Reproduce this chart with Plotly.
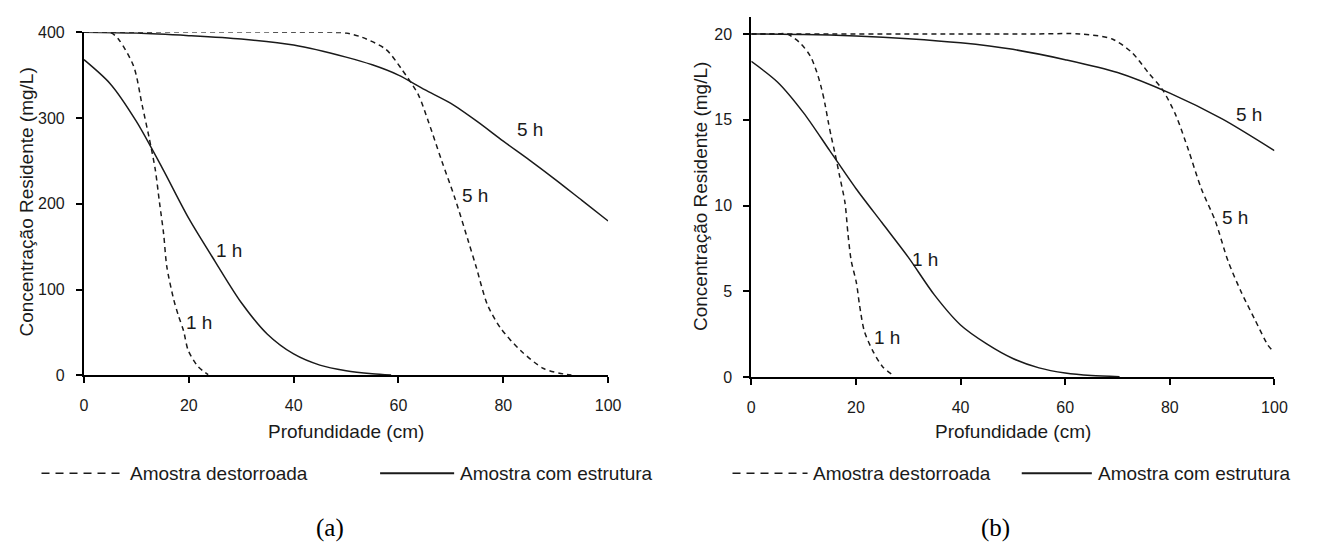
import plotly.graph_objects as go

# ---------------- data: panel (a) ----------------
a_dest_1h_x = [0, 5, 6.7, 9.5, 11.1, 12.4, 13.6, 14.4, 15.2, 15.8, 17.1, 18.0, 19.0, 19.9, 21.8, 23.7]
a_dest_1h_y = [400, 400, 391, 360, 315, 278, 240, 202, 165, 127, 89, 70, 52, 29, 10, 1]

a_struct_1h_x = [0, 5, 10, 15, 20, 25, 30, 35, 40, 45, 50, 55, 58.6]
a_struct_1h_y = [368, 340, 296, 241, 183, 133, 85, 48, 25, 12, 5.5, 2, 0.5]

a_struct_5h_x = [0, 10, 20, 30, 40, 50, 55, 60, 65, 70, 75, 80, 85, 90, 95, 100]
a_struct_5h_y = [400, 399, 396, 392, 385, 371, 362, 350, 333, 317, 296, 273, 251, 228, 204, 180]

a_dest_5h_x = [0, 40, 50, 53.1, 57.6, 60.6, 63.8, 65.7, 68.2, 70.8, 73.3, 74.8, 77, 79.5, 83.3, 87.7, 92.1, 93]
a_dest_5h_y = [400, 400, 399, 394, 380, 357, 327, 296, 251, 206, 157, 127, 82, 55, 29, 8, 1, 0.5]

# ---------------- data: panel (b) ----------------
b_dest_1h_x = [0, 5, 6.85, 9.4, 11.3, 12.5, 13.45, 14.1, 14.7, 15.3, 16.0, 16.9, 17.9, 18.5, 19.1, 20.1, 20.7, 21.6, 23.2, 25.1, 27.0]
b_dest_1h_y = [20, 20, 20, 19.45, 18.7, 17.8, 16.8, 15.9, 14.9, 14.0, 13.05, 11.7, 10.2, 8.3, 6.8, 5.5, 4.2, 2.7, 1.56, 0.62, 0.15]

b_struct_1h_x = [0, 5, 10, 15, 20, 25, 30, 35, 40, 45, 50, 55, 60, 65, 70.4]
b_struct_1h_y = [18.4, 17.2, 15.4, 13.2, 11.0, 9.0, 7.0, 4.8, 3.05, 1.95, 1.1, 0.55, 0.25, 0.1, 0.03]

b_struct_5h_x = [0, 10, 20, 30, 40, 50, 60, 70, 80, 90, 100]
b_struct_5h_y = [20, 19.97, 19.88, 19.72, 19.48, 19.1, 18.5, 17.75, 16.55, 15.05, 13.2]

b_dest_5h_x = [0, 55, 62.8, 69, 72.8, 76, 78.5, 81.1, 83.6, 86, 88.7, 91.1, 93.6, 96.2, 98.7, 99.5]
b_dest_5h_y = [20, 20, 20, 19.7, 18.9, 17.7, 16.8, 15.3, 13.2, 11, 9.1, 6.8, 5, 3.4, 1.9, 1.6]

# curve labels (text, x, y)
a_labels = [("1 h", 27.7, 145), ("1 h", 22.0, 62), ("5 h", 85.1, 287), ("5 h", 74.6, 210)]
b_labels = [("1 h", 33.2, 6.85), ("1 h", 26.0, 2.3), ("5 h", 95.1, 15.3), ("5 h", 92.5, 9.3)]

x_ticks = [0, 20, 40, 60, 80, 100]
a_y_ticks = [0, 100, 200, 300, 400]
b_y_ticks = [0, 5, 10, 15, 20]

x_title = "Profundidade (cm)"
y_title = "Concentração Residente (mg/L)"
legend_dest = "Amostra destorroada"
legend_struct = "Amostra com estrutura"

W, H = 1322, 555
FONT = "Liberation Sans, Arial, sans-serif"
INK = "#1a1a1a"
DASH = "5px,4px"

fig = go.Figure()

def add_line(x, y, xa, ya, dashed):
    fig.add_trace(go.Scatter(
        x=x, y=y, xaxis=xa, yaxis=ya, mode="lines",
        line=dict(color=INK, width=1.5, dash=DASH if dashed else "solid",
                  shape="spline", smoothing=0.8),
        showlegend=False, hoverinfo="skip"))

add_line(a_struct_5h_x, a_struct_5h_y, "x", "y", False)
add_line(a_struct_1h_x, a_struct_1h_y, "x", "y", False)
add_line(a_dest_1h_x, a_dest_1h_y, "x", "y", True)
add_line(a_dest_5h_x, a_dest_5h_y, "x", "y", True)

add_line(b_struct_5h_x, b_struct_5h_y, "x2", "y2", False)
add_line(b_struct_1h_x, b_struct_1h_y, "x2", "y2", False)
add_line(b_dest_1h_x, b_dest_1h_y, "x2", "y2", True)
add_line(b_dest_5h_x, b_dest_5h_y, "x2", "y2", True)

def px_x(p):
    return p / W

def px_y(p):
    return 1 - p / H

axis_common = dict(
    showline=True, linewidth=2, linecolor="black",
    ticks="outside", ticklen=6, tickwidth=1.5, tickcolor="black",
    showgrid=False, zeroline=False,
    tickfont=dict(family=FONT, size=16, color=INK),
    fixedrange=True,
)

fig.update_layout(
    width=W, height=H, autosize=False,
    margin=dict(l=0, r=0, t=0, b=0),
    paper_bgcolor="white", plot_bgcolor="white",
    showlegend=False,
    xaxis=dict(domain=[px_x(81), px_x(612)], range=[0, 100], tickvals=x_ticks,
               anchor="y", ticklabelstandoff=8, **axis_common),
    yaxis=dict(domain=[px_y(379), px_y(25)], range=[0, 400], tickvals=a_y_ticks,
               anchor="x", ticklabelstandoff=8, **axis_common),
    xaxis2=dict(domain=[px_x(757), px_x(1287)], range=[0, 100], tickvals=x_ticks,
                anchor="y2", ticklabelstandoff=8, **axis_common),
    yaxis2=dict(domain=[px_y(381), px_y(9)], range=[0, 21], tickvals=b_y_ticks,
                anchor="x2", ticklabelstandoff=8, **axis_common),
)

def paper_text(text, cx, cy, size=19, angle=0, xanchor="center", family=FONT, color=INK):
    return dict(text=text, x=px_x(cx), y=px_y(cy), xref="paper", yref="paper",
                xanchor=xanchor, yanchor="middle", showarrow=False, textangle=angle,
                font=dict(family=family, size=size, color=color))

ann = []
for t, x, y in a_labels:
    ann.append(dict(text=t, x=x, y=y, xref="x", yref="y", showarrow=False,
                    xanchor="center", yanchor="middle",
                    font=dict(family=FONT, size=19, color=INK)))
for t, x, y in b_labels:
    ann.append(dict(text=t, x=x, y=y, xref="x2", yref="y2", showarrow=False,
                    xanchor="center", yanchor="middle",
                    font=dict(family=FONT, size=19, color=INK)))

# axis titles
for cx in (346, 1022):
    ann.append(paper_text(x_title, cx, 437))
for cx, cy in ((23, 200), (705, 194)):
    ann.append(paper_text(y_title, cx, cy, angle=-90))

# legends (line samples + text)
shapes = []
LEG_Y = 480
for (d0, d1, dt, s0, s1, st) in ((38, 122, 126, 381, 456, 460), (738, 814, 818, 1031, 1102, 1106)):
    shapes.append(dict(type="line", xref="paper", yref="paper",
                       x0=px_x(d0), x1=px_x(d1), y0=px_y(LEG_Y), y1=px_y(LEG_Y),
                       line=dict(color=INK, width=1.5, dash="8px,6px")))
    shapes.append(dict(type="line", xref="paper", yref="paper",
                       x0=px_x(s0), x1=px_x(s1), y0=px_y(LEG_Y), y1=px_y(LEG_Y),
                       line=dict(color=INK, width=2)))
    ann.append(paper_text(legend_dest, dt, LEG_Y, xanchor="left"))
    ann.append(paper_text(legend_struct, st, LEG_Y, xanchor="left"))

# panel letters
for t, cx in (("(a)", 330), ("(b)", 1004)):
    ann.append(paper_text(t, cx, 536, size=25,
                          family="Liberation Serif, Times New Roman, serif", color="black"))

fig.update_layout(annotations=ann, shapes=shapes)
fig.write_html("out.html", config={"displayModeBar": False},
               post_script="document.body.style.margin='0';document.body.style.overflow='hidden';")
